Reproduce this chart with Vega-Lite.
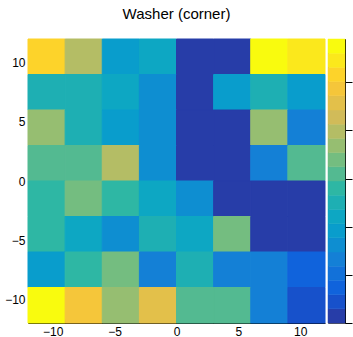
{
  "$schema": "https://vega.github.io/schema/vega-lite/v6.json",
  "autosize": {"type": "none"},
  "padding": {"left": 28, "top": 39, "right": 325, "bottom": 14},
  "background": "white",
  "spacing": 1,
  "config": {"view": {"stroke": null}},
  "resolve": {"scale": {"color": "independent", "stroke": "independent"}},
  "hconcat": [
    {
      "width": 297,
      "height": 284,
      "title": {"text": "Washer (corner)", "font": "Liberation Sans", "fontSize": 15, "fontWeight": "normal", "color": "#000", "anchor": "middle", "baseline": "alphabetic", "offset": 5},
      "data": {"values": [
        {"x": -12, "x2": -9, "y": 9, "y2": 12, "v": 52},
        {"x": -9, "x2": -6, "y": 9, "y2": 12, "v": 40},
        {"x": -6, "x2": -3, "y": 9, "y2": 12, "v": 19},
        {"x": -3, "x2": 0, "y": 9, "y2": 12, "v": 22},
        {"x": 0, "x2": 3, "y": 9, "y2": 12, "v": 1},
        {"x": 3, "x2": 6, "y": 9, "y2": 12, "v": 1},
        {"x": 6, "x2": 9, "y": 9, "y2": 12, "v": 58},
        {"x": 9, "x2": 12, "y": 9, "y2": 12, "v": 55},
        {"x": -12, "x2": -9, "y": 6, "y2": 9, "v": 25},
        {"x": -9, "x2": -6, "y": 6, "y2": 9, "v": 25},
        {"x": -6, "x2": -3, "y": 6, "y2": 9, "v": 22},
        {"x": -3, "x2": 0, "y": 6, "y2": 9, "v": 16},
        {"x": 0, "x2": 3, "y": 6, "y2": 9, "v": 1},
        {"x": 3, "x2": 6, "y": 6, "y2": 9, "v": 19},
        {"x": 6, "x2": 9, "y": 6, "y2": 9, "v": 25},
        {"x": 9, "x2": 12, "y": 6, "y2": 9, "v": 19},
        {"x": -12, "x2": -9, "y": 3, "y2": 6, "v": 37},
        {"x": -9, "x2": -6, "y": 3, "y2": 6, "v": 25},
        {"x": -6, "x2": -3, "y": 3, "y2": 6, "v": 19},
        {"x": -3, "x2": 0, "y": 3, "y2": 6, "v": 16},
        {"x": 0, "x2": 3, "y": 3, "y2": 6, "v": 1},
        {"x": 3, "x2": 6, "y": 3, "y2": 6, "v": 1},
        {"x": 6, "x2": 9, "y": 3, "y2": 6, "v": 37},
        {"x": 9, "x2": 12, "y": 3, "y2": 6, "v": 13},
        {"x": -12, "x2": -9, "y": 0, "y2": 3, "v": 31},
        {"x": -9, "x2": -6, "y": 0, "y2": 3, "v": 31},
        {"x": -6, "x2": -3, "y": 0, "y2": 3, "v": 40},
        {"x": -3, "x2": 0, "y": 0, "y2": 3, "v": 16},
        {"x": 0, "x2": 3, "y": 0, "y2": 3, "v": 1},
        {"x": 3, "x2": 6, "y": 0, "y2": 3, "v": 1},
        {"x": 6, "x2": 9, "y": 0, "y2": 3, "v": 13},
        {"x": 9, "x2": 12, "y": 0, "y2": 3, "v": 31},
        {"x": -12, "x2": -9, "y": -3, "y2": 0, "v": 28},
        {"x": -9, "x2": -6, "y": -3, "y2": 0, "v": 34},
        {"x": -6, "x2": -3, "y": -3, "y2": 0, "v": 28},
        {"x": -3, "x2": 0, "y": -3, "y2": 0, "v": 22},
        {"x": 0, "x2": 3, "y": -3, "y2": 0, "v": 16},
        {"x": 3, "x2": 6, "y": -3, "y2": 0, "v": 1},
        {"x": 6, "x2": 9, "y": -3, "y2": 0, "v": 1},
        {"x": 9, "x2": 12, "y": -3, "y2": 0, "v": 1},
        {"x": -12, "x2": -9, "y": -6, "y2": -3, "v": 28},
        {"x": -9, "x2": -6, "y": -6, "y2": -3, "v": 22},
        {"x": -6, "x2": -3, "y": -6, "y2": -3, "v": 16},
        {"x": -3, "x2": 0, "y": -6, "y2": -3, "v": 25},
        {"x": 0, "x2": 3, "y": -6, "y2": -3, "v": 22},
        {"x": 3, "x2": 6, "y": -6, "y2": -3, "v": 34},
        {"x": 6, "x2": 9, "y": -6, "y2": -3, "v": 1},
        {"x": 9, "x2": 12, "y": -6, "y2": -3, "v": 1},
        {"x": -12, "x2": -9, "y": -9, "y2": -6, "v": 19},
        {"x": -9, "x2": -6, "y": -9, "y2": -6, "v": 28},
        {"x": -6, "x2": -3, "y": -9, "y2": -6, "v": 34},
        {"x": -3, "x2": 0, "y": -9, "y2": -6, "v": 13},
        {"x": 0, "x2": 3, "y": -9, "y2": -6, "v": 25},
        {"x": 3, "x2": 6, "y": -9, "y2": -6, "v": 13},
        {"x": 6, "x2": 9, "y": -9, "y2": -6, "v": 13},
        {"x": 9, "x2": 12, "y": -9, "y2": -6, "v": 7},
        {"x": -12, "x2": -9, "y": -12, "y2": -9, "v": 58},
        {"x": -9, "x2": -6, "y": -12, "y2": -9, "v": 49},
        {"x": -6, "x2": -3, "y": -12, "y2": -9, "v": 37},
        {"x": -3, "x2": 0, "y": -12, "y2": -9, "v": 46},
        {"x": 0, "x2": 3, "y": -12, "y2": -9, "v": 31},
        {"x": 3, "x2": 6, "y": -12, "y2": -9, "v": 31},
        {"x": 6, "x2": 9, "y": -12, "y2": -9, "v": 13},
        {"x": 9, "x2": 12, "y": -12, "y2": -9, "v": 4}
      ]},
      "mark": {"type": "rect", "strokeWidth": 1},
      "encoding": {
        "x": {
          "field": "x", "type": "quantitative",
          "scale": {"domain": [-12, 12], "nice": false, "zero": false},
          "axis": {
            "title": null, "grid": false,
            "values": [-11, -10, -9, -8, -7, -6, -5, -4, -3, -2, -1, 0, 1, 2, 3, 4, 5, 6, 7, 8, 9, 10, 11],
            "domainColor": "#000", "tickColor": "#000",
            "tickSize": {"condition": {"test": "datum.value % 5 === 0", "value": -8}, "value": -4},
            "labelExpr": "datum.value % 5 === 0 ? datum.label : ''",
            "labelPadding": 11, "labelFont": "Liberation Sans", "labelFontSize": 12, "labelColor": "#000",
            "labelFlush": false, "labelOverlap": false
          }
        },
        "x2": {"field": "x2"},
        "y": {
          "field": "y", "type": "quantitative",
          "scale": {"domain": [-12, 12], "nice": false, "zero": false},
          "axis": {
            "title": null, "grid": false,
            "values": [-11, -10, -9, -8, -7, -6, -5, -4, -3, -2, -1, 0, 1, 2, 3, 4, 5, 6, 7, 8, 9, 10, 11],
            "domainColor": "#000", "tickColor": "#000",
            "tickSize": {"condition": {"test": "datum.value % 5 === 0", "value": -8}, "value": -4},
            "labelExpr": "datum.value % 5 === 0 ? datum.label : ''",
            "labelPadding": 11, "labelFont": "Liberation Sans", "labelFontSize": 12, "labelColor": "#000",
            "labelFlush": false, "labelOverlap": false
          }
        },
        "y2": {"field": "y2"},
        "color": {
          "field": "v", "type": "quantitative",
          "scale": {
            "type": "quantize", "domain": [0, 59], "nice": false,
            "range": ["#273da8", "#1751cb", "#1063dc", "#1271d9", "#1480d6", "#0e8ed1", "#099dcc", "#0da7c3", "#1eafb3", "#2eb7a4", "#53ba91", "#74bd80", "#96be71", "#b4bd65", "#d1bb59", "#e3c04a", "#f5c63a", "#fdd32a", "#fbe81c", "#f9fb0e"]
          },
          "legend": null
        },
        "stroke": {
          "field": "v", "type": "quantitative",
          "scale": {
            "type": "quantize", "domain": [0, 59], "nice": false,
            "range": ["#273da8", "#1751cb", "#1063dc", "#1271d9", "#1480d6", "#0e8ed1", "#099dcc", "#0da7c3", "#1eafb3", "#2eb7a4", "#53ba91", "#74bd80", "#96be71", "#b4bd65", "#d1bb59", "#e3c04a", "#f5c63a", "#fdd32a", "#fbe81c", "#f9fb0e"]
          },
          "legend": null
        }
      }
    },
    {
      "width": 17,
      "height": 284,
      "view": {"stroke": "#555", "strokeWidth": 1},
      "data": {"values": [
        {"lo": 0, "hi": 2.95, "v": 1.475},
        {"lo": 2.95, "hi": 5.9, "v": 4.425},
        {"lo": 5.9, "hi": 8.85, "v": 7.375},
        {"lo": 8.85, "hi": 11.8, "v": 10.325},
        {"lo": 11.8, "hi": 14.75, "v": 13.275},
        {"lo": 14.75, "hi": 17.7, "v": 16.225},
        {"lo": 17.7, "hi": 20.65, "v": 19.175},
        {"lo": 20.65, "hi": 23.6, "v": 22.125},
        {"lo": 23.6, "hi": 26.55, "v": 25.075},
        {"lo": 26.55, "hi": 29.5, "v": 28.025},
        {"lo": 29.5, "hi": 32.45, "v": 30.975},
        {"lo": 32.45, "hi": 35.4, "v": 33.925},
        {"lo": 35.4, "hi": 38.35, "v": 36.875},
        {"lo": 38.35, "hi": 41.3, "v": 39.825},
        {"lo": 41.3, "hi": 44.25, "v": 42.775},
        {"lo": 44.25, "hi": 47.2, "v": 45.725},
        {"lo": 47.2, "hi": 50.15, "v": 48.675},
        {"lo": 50.15, "hi": 53.1, "v": 51.625},
        {"lo": 53.1, "hi": 56.05, "v": 54.575},
        {"lo": 56.05, "hi": 59, "v": 57.525}
      ]},
      "mark": {"type": "rect", "strokeWidth": 0.5},
      "encoding": {
        "y": {
          "field": "lo", "type": "quantitative",
          "scale": {"domain": [0, 59], "nice": false, "zero": false},
          "axis": {
            "title": null, "grid": false, "orient": "right",
            "values": [0, 10, 20, 30, 40, 50],
            "domainColor": "#000", "tickColor": "#000", "tickSize": 7,
            "labelPadding": 1, "labelFont": "Liberation Sans", "labelFontSize": 12, "labelColor": "#000",
            "labelFlush": false, "labelOverlap": false
          }
        },
        "y2": {"field": "hi"},
        "color": {
          "field": "v", "type": "quantitative",
          "scale": {
            "type": "quantize", "domain": [0, 59], "nice": false,
            "range": ["#273da8", "#1751cb", "#1063dc", "#1271d9", "#1480d6", "#0e8ed1", "#099dcc", "#0da7c3", "#1eafb3", "#2eb7a4", "#53ba91", "#74bd80", "#96be71", "#b4bd65", "#d1bb59", "#e3c04a", "#f5c63a", "#fdd32a", "#fbe81c", "#f9fb0e"]
          },
          "legend": null
        },
        "stroke": {
          "field": "v", "type": "quantitative",
          "scale": {
            "type": "quantize", "domain": [0, 59], "nice": false,
            "range": ["#273da8", "#1751cb", "#1063dc", "#1271d9", "#1480d6", "#0e8ed1", "#099dcc", "#0da7c3", "#1eafb3", "#2eb7a4", "#53ba91", "#74bd80", "#96be71", "#b4bd65", "#d1bb59", "#e3c04a", "#f5c63a", "#fdd32a", "#fbe81c", "#f9fb0e"]
          },
          "legend": null
        }
      }
    }
  ]
}
